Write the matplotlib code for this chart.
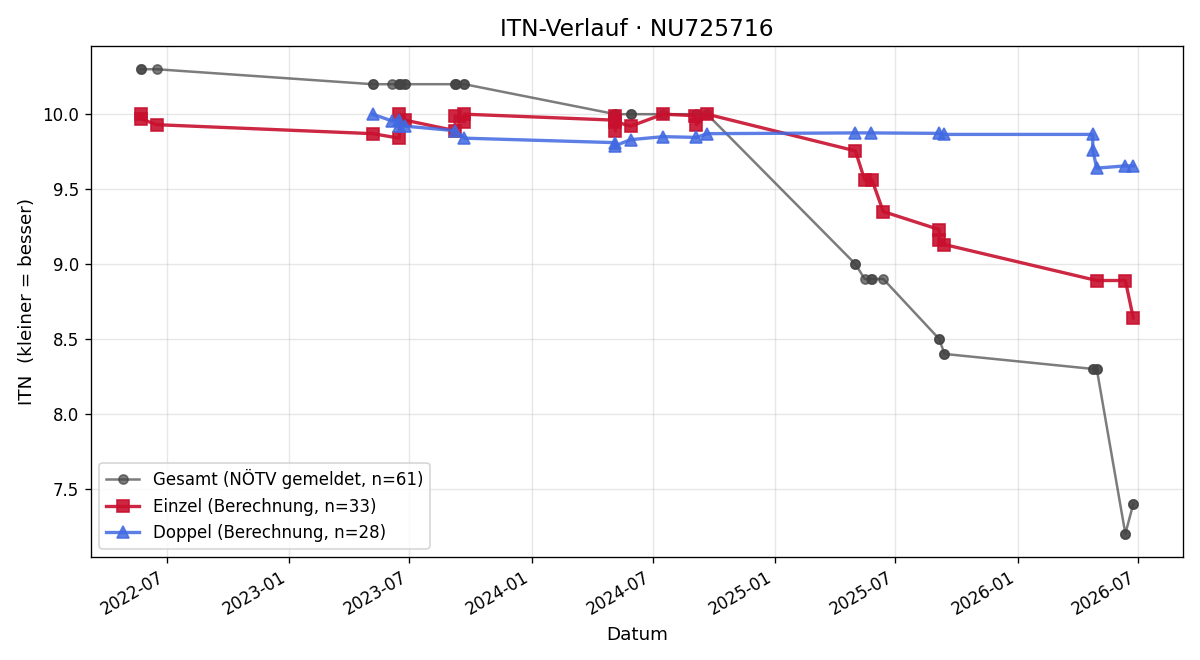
import pandas as pd
import matplotlib
matplotlib.use('Agg')
from matplotlib import pyplot as plt
import matplotlib.dates as mdates

#data_gesamt
ges_dates = ['2022-05-23', '2022-05-23', '2022-06-16',
             '2023-05-07', '2023-05-07', '2023-06-05', '2023-06-16', '2023-06-16', '2023-06-19', '2023-06-25', '2023-06-25',
             '2023-09-08', '2023-09-08', '2023-09-10', '2023-09-22', '2023-09-22',
             '2024-05-06', '2024-05-06', '2024-05-29', '2024-05-29', '2024-07-17', '2024-09-05', '2024-09-21',
             '2025-05-02', '2025-05-02', '2025-05-16', '2025-05-25', '2025-05-27', '2025-06-13',
             '2025-09-05', '2025-09-05', '2025-09-13', '2025-09-13',
             '2026-04-24', '2026-04-24', '2026-04-30', '2026-04-30', '2026-06-12', '2026-06-12', '2026-06-24', '2026-06-24']
ges_vals = [10.3, 10.3, 10.3,
            10.2, 10.2, 10.2, 10.2, 10.2, 10.2, 10.2, 10.2,
            10.2, 10.2, 10.2, 10.2, 10.2,
            10.0, 10.0, 10.0, 10.0, 10.0, 10.0, 10.0,
            9.0, 9.0, 8.9, 8.9, 8.9, 8.9,
            8.5, 8.5, 8.4, 8.4,
            8.3, 8.3, 8.3, 8.3, 7.2, 7.2, 7.4, 7.4]

#data_einzel
ein_dates = ['2022-05-23', '2022-05-23', '2022-06-16', '2023-05-07', '2023-06-16', '2023-06-16', '2023-06-25',
             '2023-09-08', '2023-09-08', '2023-09-22', '2023-09-22',
             '2024-05-06', '2024-05-06', '2024-05-06', '2024-05-06', '2024-05-29', '2024-07-17',
             '2024-09-03', '2024-09-05', '2024-09-21',
             '2025-05-02', '2025-05-16', '2025-05-27', '2025-06-13', '2025-09-05', '2025-09-05', '2025-09-13',
             '2026-04-30', '2026-06-12', '2026-06-24']
ein_vals = [10.0, 9.97, 9.93, 9.87, 9.84, 10.0, 9.96,
            9.89, 9.99, 9.95, 10.0,
            9.96, 9.99, 9.89, 9.95, 9.92, 10.0,
            9.99, 9.93, 10.0,
            9.755, 9.56, 9.56, 9.35, 9.23, 9.16, 9.13,
            8.89, 8.89, 8.64]

#data_doppel
dop_dates = ['2023-05-07', '2023-06-05', '2023-06-16', '2023-06-16', '2023-06-25',
             '2023-09-08', '2023-09-22', '2024-05-06', '2024-05-06', '2024-05-29', '2024-07-17', '2024-09-05', '2024-09-21',
             '2025-05-02', '2025-05-25', '2025-09-05', '2025-09-13',
             '2026-04-24', '2026-04-24', '2026-04-30', '2026-06-12', '2026-06-24']
dop_vals = [10.0, 9.955, 9.96, 9.92, 9.92,
            9.89, 9.84, 9.81, 9.79, 9.83, 9.85, 9.845, 9.87,
            9.875, 9.875, 9.872, 9.865,
            9.865, 9.76, 9.64, 9.655, 9.655]

fig, ax = plt.subplots(figsize=(10, 5.5), dpi=120)
plt.subplots_adjust(left=0.0758, right=0.9858, top=0.9303, bottom=0.1561)

ax.plot(pd.to_datetime(ges_dates), ges_vals, color='#444444', alpha=0.7, lw=1.5,
        marker='o', ms=5.5, label='Gesamt (NÖTV gemeldet, n=61)')
ax.plot(pd.to_datetime(ein_dates), ein_vals, color='#C8102E', alpha=0.9, lw=2,
        marker='s', ms=7, label='Einzel (Berechnung, n=33)')
ax.plot(pd.to_datetime(dop_dates), dop_vals, color='#4169E1', alpha=0.85, lw=2,
        marker='^', ms=7, label='Doppel (Berechnung, n=28)')

ax.set_title('ITN-Verlauf · NU725716', fontsize=14)
ax.set_xlabel('Datum', fontsize=11)
ax.set_ylabel('ITN  (kleiner = besser)', fontsize=11)
ax.grid(True, alpha=0.3)
ax.xaxis.set_major_locator(mdates.MonthLocator(bymonth=[1, 7]))
ax.xaxis.set_major_formatter(mdates.DateFormatter('%Y-%m'))
ax.legend(loc='lower left')
for lbl in ax.get_xticklabels():
    lbl.set_rotation(30)
    lbl.set_ha('right')

plt.savefig('out.png')
